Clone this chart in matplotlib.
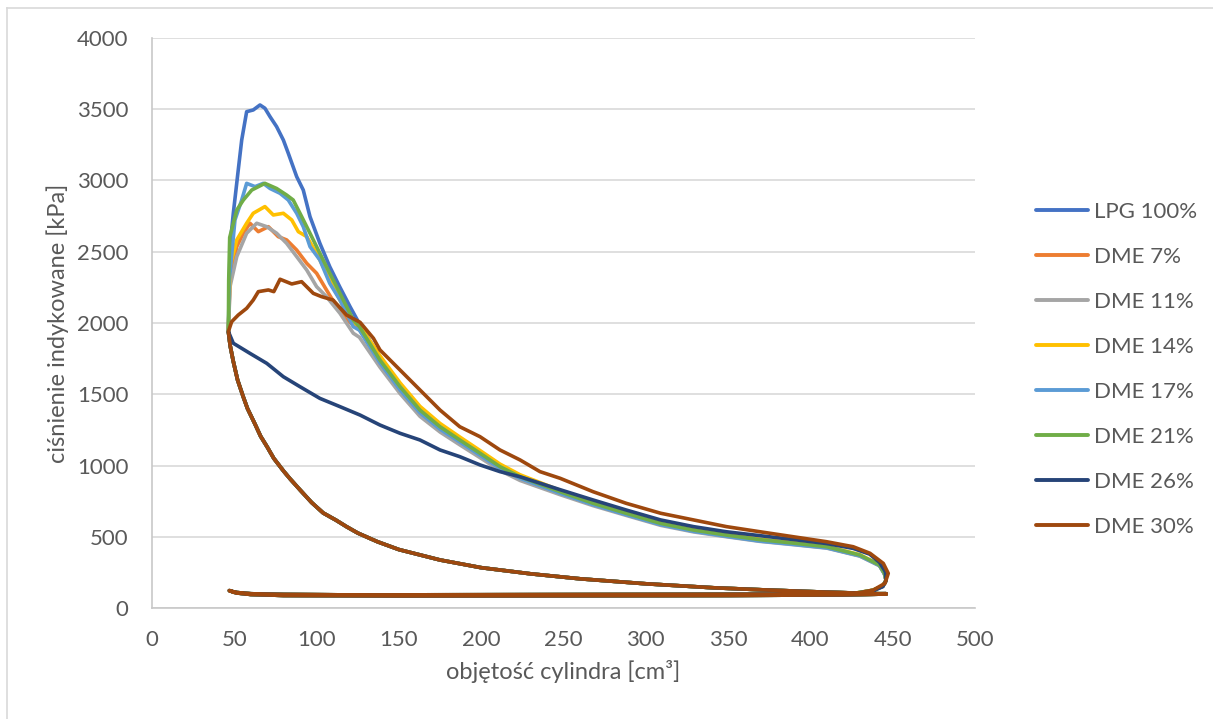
import matplotlib
matplotlib.use("Agg")
import matplotlib.pyplot as plt
from matplotlib.lines import Line2D

plt.rcParams['font.family'] = ['Lato', 'DejaVu Sans']

# ---------------- data ----------------
series_names = ["LPG 100%", "DME 7%", "DME 11%", "DME 14%", "DME 17%", "DME 21%", "DME 26%", "DME 30%"]
series_colors = ["#4472C4", "#ED7D31", "#A5A5A5", "#FFC000", "#5B9BD5", "#70AD47", "#264478", "#9E480E"]

# compression stroke (BDC -> TDC), common to all fuels
comp_v = [446, 430, 400, 370, 341, 300, 260, 230, 200, 175, 150, 137, 125, 118, 112, 104, 97, 90, 84, 80, 74, 70, 66, 62.6, 58, 55.5, 52, 49.4, 47.5, 46.4]
comp_p = [98, 104, 115, 128, 142, 170, 205, 240, 283, 337, 410, 465, 526, 572, 615, 667, 740, 828, 905, 960, 1050, 1130, 1205, 1290, 1400, 1480, 1600, 1730, 1840, 1940]

# exhaust stroke (BDC -> TDC) and intake stroke (TDC -> BDC)
exh_v = [446, 420, 380, 300, 200, 120, 80, 60, 50, 47]
exh_p = [100, 98, 97, 95, 93, 92, 95, 100, 110, 122]
int_v = [47, 52, 60, 80, 150, 250, 350, 420, 446]
int_p = [122, 105, 95, 88, 85, 86, 88, 92, 98]

# expansion stroke (TDC -> BDC), per fuel
lpg100_v = [46.4, 47, 47.4, 49.4, 52.4, 54.5, 57.5, 61.5, 65.6, 68.6, 71.7, 75.7, 79.8, 82.8, 87.9, 91.9, 96, 102, 108, 114, 120.3,
            126, 138.5, 150.7, 162.8, 175, 187, 199.3, 211.4, 223.6, 248, 268, 288, 309, 329, 349, 369, 390, 410, 430, 442, 445, 446, 444, 438, 426]
lpg100_p = [1940, 2200, 2536, 2770, 3074, 3284, 3483, 3495, 3530, 3507, 3448, 3378, 3284, 3191, 3027, 2933, 2746, 2559, 2395, 2255, 2115,
            1995, 1760, 1565, 1395, 1275, 1180, 1085, 990, 918, 812, 730, 660, 590, 543, 508, 476, 450, 425, 368, 300, 240, 193, 153, 124, 101]

dme7_v = [46.4, 47.4, 51.5, 55.5, 59.5, 64.6, 70.7, 76.7, 81.8, 87.9, 94, 100, 106, 112.2, 118.3,
          126, 138.5, 150.7, 162.8, 175, 187, 199.3, 211.4, 223.6, 248, 268, 288, 309, 329, 349, 369, 390, 410, 430, 442, 445, 446, 444, 438, 426]
dme7_p = [1940, 2302, 2536, 2630, 2700, 2641, 2676, 2606, 2583, 2512, 2419, 2349, 2232, 2115, 2021,
          1955, 1730, 1545, 1380, 1265, 1172, 1080, 988, 916, 810, 730, 660, 590, 543, 508, 476, 450, 425, 368, 300, 240, 193, 153, 124, 101]

dme11_v = [46.4, 47.4, 51.5, 57.5, 63.6, 69.7, 75.7, 81.8, 87.9, 94, 100, 106, 114.2, 122.3,
           126, 138.5, 150.7, 162.8, 175, 187, 199.3, 211.4, 223.6, 248, 268, 288, 309, 329, 349, 369, 390, 410, 430, 442, 445, 446, 444, 438, 426]
dme11_p = [1940, 2255, 2466, 2630, 2700, 2676, 2630, 2559, 2466, 2372, 2255, 2185, 2068, 1928,
           1900, 1690, 1505, 1345, 1235, 1145, 1055, 965, 895, 795, 718, 650, 580, 534, 500, 468, 444, 420, 364, 296, 238, 192, 152, 123, 101]

dme14_v = [46.4, 47.4, 51.5, 57.5, 61.5, 68.6, 73.7, 79.8, 84.9, 88.9, 94, 100, 106, 114.2, 122.3,
           126, 138.5, 150.7, 162.8, 175, 187, 199.3, 211.4, 223.6, 248, 268, 288, 309, 329, 349, 369, 390, 410, 430, 442, 445, 446, 444, 438, 426]
dme14_p = [1940, 2395, 2583, 2700, 2770, 2817, 2758, 2770, 2723, 2641, 2606, 2489, 2349, 2161, 1998,
           1985, 1770, 1580, 1415, 1295, 1200, 1105, 1010, 935, 825, 742, 672, 600, 552, 516, 483, 458, 432, 374, 304, 244, 196, 156, 125, 102]

dme17_v = [46.4, 47, 50.4, 54.5, 57.5, 62.6, 67.6, 71.7, 77.8, 82.8, 87.9, 91.9, 96, 102, 108, 114.2, 122.3,
           126, 138.5, 150.7, 162.8, 175, 187, 199.3, 211.4, 223.6, 248, 268, 288, 309, 329, 349, 369, 390, 410, 430, 442, 445, 446, 444, 438, 426]
dme17_p = [1940, 2302, 2723, 2863, 2980, 2957, 2980, 2944, 2910, 2863, 2770, 2676, 2536, 2442, 2278, 2161, 1974,
           1950, 1720, 1530, 1370, 1255, 1165, 1072, 980, 910, 805, 725, 655, 585, 538, 503, 470, 446, 422, 366, 298, 240, 193, 153, 124, 101]

dme21_v = [46.4, 46.6, 47.2, 51.5, 55.5, 60.6, 68.6, 75.7, 81.8, 85.8, 89.9, 94, 100, 106, 114.2, 122.3,
           126, 138.5, 150.7, 162.8, 175, 187, 199.3, 211.4, 223.6, 248, 268, 288, 309, 329, 349, 369, 390, 410, 430, 442, 445, 446, 444, 438, 426]
dme21_p = [1940, 2300, 2600, 2793, 2863, 2933, 2980, 2944, 2898, 2863, 2770, 2676, 2536, 2395, 2208, 2021,
           1975, 1740, 1553, 1389, 1272, 1179, 1086, 992, 921, 816, 735, 665, 594, 547, 512, 480, 455, 430, 372, 302, 243, 195, 155, 125, 102]

dme26_v = [46.4, 49.4, 59.5, 69.7, 79.8, 89.9, 102, 114.2, 126.4, 138.5, 150.7, 162.8, 175, 187, 199.3, 211.4, 223.6,
           248, 268, 288, 309, 329, 349, 369, 390, 410, 426, 436, 442, 445.5, 446, 444, 438, 426]
dme26_p = [1940, 1858, 1787, 1717, 1623, 1553, 1471, 1413, 1354, 1284, 1226, 1179, 1109, 1062, 1004, 957, 921,
           830, 758, 688, 618, 571, 535, 508, 480, 452, 418, 378, 320, 255, 195, 150, 120, 100]

dme30_v = [46.4, 48.4, 52.4, 57.5, 61.5, 64.6, 70.7, 74, 77.8, 84.9, 90.9, 98, 103, 110, 118.2, 126.4, 134.5, 138.5,
           150.7, 162.8, 175, 187, 199.3, 211.4, 223.6, 235.7, 248, 268, 288, 309, 329, 349, 369.4, 389.6, 409.9, 426,
           436.2, 444.3, 447.3, 445.3, 438.2, 426]
dme30_p = [1940, 2009, 2056, 2103, 2161, 2220, 2232, 2220, 2307, 2274, 2290, 2208, 2185, 2161, 2056, 2005, 1893, 1811,
           1670, 1530, 1389, 1272, 1202, 1109, 1039, 957, 910, 816, 735, 665, 618, 571, 535, 500, 465, 430,
           384, 313, 243, 173, 126, 98]

expansion_v = [lpg100_v, dme7_v, dme11_v, dme14_v, dme17_v, dme21_v, dme26_v, dme30_v]
expansion_p = [lpg100_p, dme7_p, dme11_p, dme14_p, dme17_p, dme21_p, dme26_p, dme30_p]

x_ticks = [0, 50, 100, 150, 200, 250, 300, 350, 400, 450, 500]
y_ticks = [0, 500, 1000, 1500, 2000, 2500, 3000, 3500, 4000]
x_label = "objętość cylindra [cm³]"
y_label = "ciśnienie indykowane [kPa]"

# ---------------- figure ----------------
W, H = 1213, 719
fig = plt.figure(figsize=(W / 100, H / 100), dpi=100)
ax = fig.add_axes([152 / W, 1 - 608 / H, (975 - 152) / W, (608 - 38) / H])

text_color = "#595959"
fs = 16
fs_lab = 17

for name, col, ev, ep in zip(series_names, series_colors, expansion_v, expansion_p):
    v = list(comp_v) + list(ev) + list(exh_v) + list(int_v)
    p = list(comp_p) + list(ep) + list(exh_p) + list(int_p)
    ax.plot(v, p, color=col, lw=2.6, solid_joinstyle="round", solid_capstyle="round", label=name)

ax.set_xlim(0, 500)
ax.set_ylim(0, 4000)
ax.set_xticks(x_ticks)
ax.set_yticks(y_ticks)
ax.yaxis.grid(True, color="#D9D9D9", lw=1.2)
ax.set_axisbelow(True)
for s in ["top", "right"]:
    ax.spines[s].set_visible(False)
ax.spines["left"].set_color("#C8C8C8")
ax.spines["bottom"].set_color("#C8C8C8")
ax.spines["left"].set_linewidth(1.2)
ax.spines["bottom"].set_linewidth(1.2)
ax.tick_params(axis="both", length=0, labelsize=fs, labelcolor=text_color)
ax.tick_params(axis="y", pad=17)
ax.tick_params(axis="x", pad=16)

fig.text(563.5 / W, 1 - 679 / H, x_label, ha="center", va="baseline", fontsize=fs_lab, color=text_color)
fig.text(58 / W, 1 - 323 / H, y_label, ha="center", va="center", rotation=90, fontsize=fs_lab, color=text_color)

# legend drawn manually
for i, (name, col) in enumerate(zip(series_names, series_colors)):
    yc = 210 + 45 * i
    fig.add_artist(Line2D([1036 / W, 1088 / W], [1 - yc / H, 1 - yc / H], color=col, lw=2.8,
                          solid_capstyle="round", transform=fig.transFigure))
    fig.text(1094 / W, 1 - (yc + 8) / H, name, ha="left", va="baseline", fontsize=fs, color=text_color)

# chart area border (left and top visible)
fig.add_artist(Line2D([7 / W, 7 / W], [1 - 8 / H, 0], color="#D9D9D9", lw=1.2, transform=fig.transFigure))
fig.add_artist(Line2D([7 / W, 1], [1 - 8 / H, 1 - 8 / H], color="#D9D9D9", lw=1.2, transform=fig.transFigure))

fig.savefig("out.png", dpi=100)
